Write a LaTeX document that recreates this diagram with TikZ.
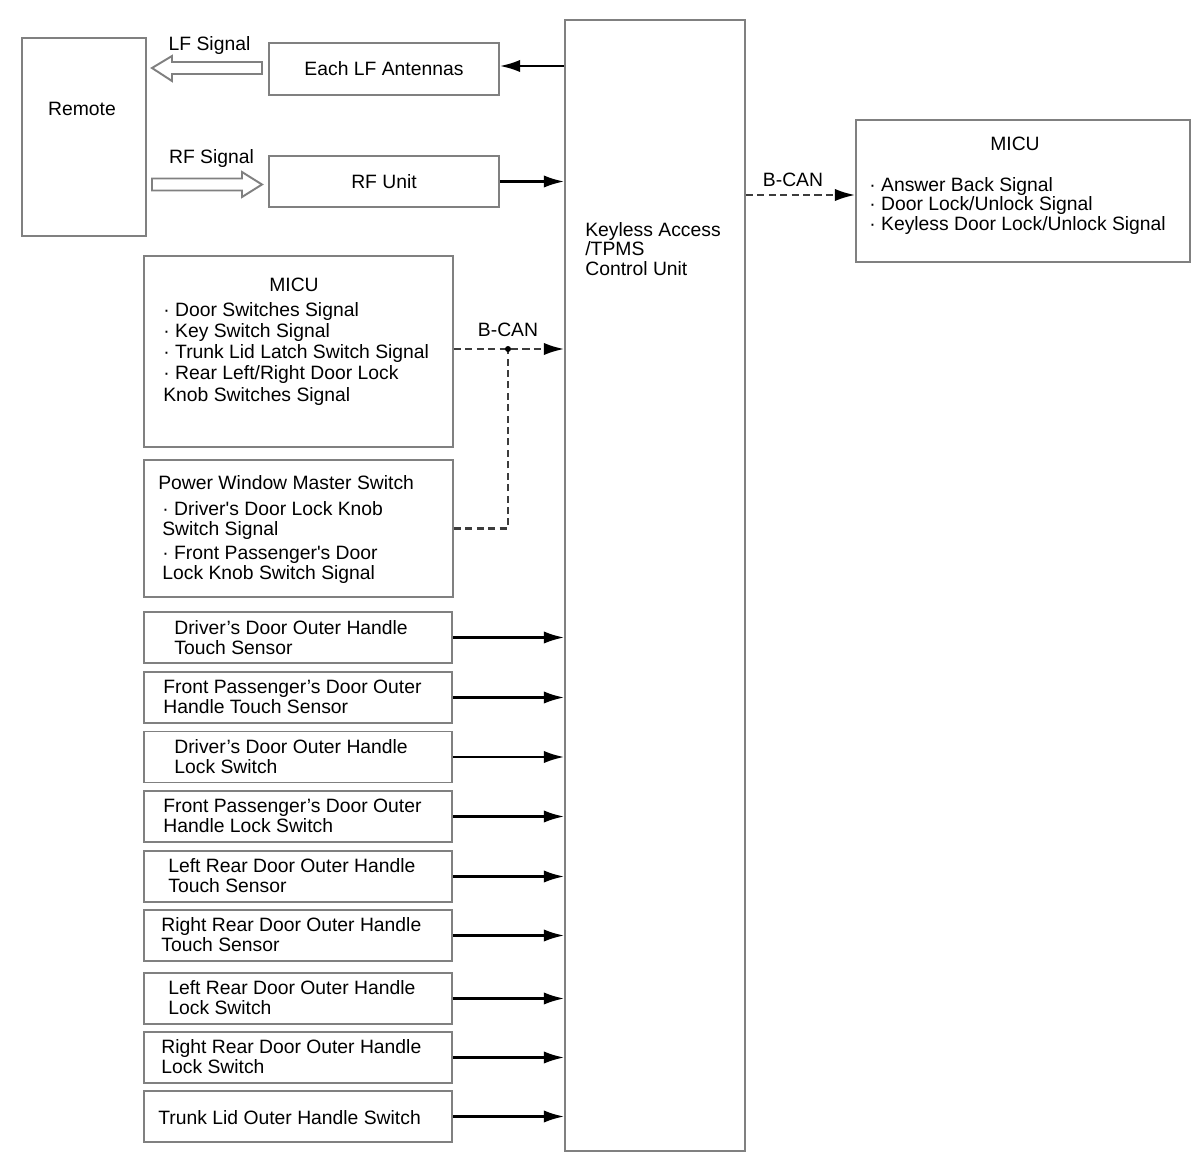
\documentclass[tikz,border=0pt]{standalone}
\usepackage{fontspec}
\newfontfamily\mainf{Liberation Sans}
\usetikzlibrary{arrows.meta,calc}
\definecolor{boxgray}{RGB}{128,128,128}
\definecolor{cangray}{RGB}{60,60,60}
\begin{document}
\begin{tikzpicture}[x=0.02cm,y=-0.02cm,
  box/.style={draw=boxgray, line width=1.1pt, fill=white, inner sep=0pt, font=\mainf\fontsize{11}{11.3}\selectfont},
  sz/.style 2 args={minimum width=#1*0.02cm, minimum height=#2*0.02cm},
  txt/.style={inner sep=0pt, align=left, font=\mainf\fontsize{11}{#1}\selectfont},
  txt/.default={11.3pt},
  conn/.style={line width=1.2pt, draw=black, -{Latex[length=11.5pt,width=7pt]}},
  can/.style={line width=1.2pt, draw=cangray, dash pattern=on 4pt off 2.5pt},
  canarrow/.style={can, -{Latex[length=11.5pt,width=7pt,fill=black,color=black]}},
  hollow/.style={draw=boxgray, line width=1.1pt, fill=white, line join=miter}
]
\fill[white] (0,0) rectangle (1200,1173);
\useasboundingbox (0,0) rectangle (1200,1173);

% Remote and top boxes
\node[box, sz={124}{198}] (remote) at (84,137) {};
\node[txt, anchor=base] (remotet) at (82,115) {Remote};
\node[box, sz={230}{52}] (lf) at (384,69) {Each LF Antennas};
\node[box, sz={230}{51}] (rf) at (384,181.5) {RF Unit};

% control unit
\node[box, sz={180}{1131}] (cu) at (655,585.5) {};
\node[txt=11.05pt, anchor=base west] (cut) at (585,275) {Keyless Access\\/TPMS\\Control Unit};

% right MICU
\node[box, sz={334}{142}] (micuR) at (1023,191) {};
\node[txt, anchor=base] (micuRt) at (1015,150) {MICU};
\node[txt=11.05pt, anchor=base west] (micuRi) at (869,230) {· Answer Back Signal\\· Door Lock/Unlock Signal\\· Keyless Door Lock/Unlock Signal};

% left MICU
\node[box, sz={309}{191}] (micuL) at (298.5,351.5) {};
\node[txt, anchor=base] (micuLt) at (294,291) {MICU};
\node[txt=12.05pt, anchor=base west] (micuLi) at (163,401) {· Door Switches Signal\\· Key Switch Signal\\· Trunk Lid Latch Switch Signal\\· Rear Left/Right Door Lock\\Knob Switches Signal};

% power window master switch
\node[box, sz={309}{137}] (pwms) at (298.5,528.5) {};
\node[txt, anchor=base west] (pwmst) at (158,489) {Power Window Master Switch};
\node[txt, anchor=base west] (pwmsa) at (162,535) {· Driver's Door Lock Knob\\Switch Signal};
\node[txt, anchor=base west] (pwmsb) at (162,579) {· Front Passenger's Door\\Lock Knob Switch Signal};

% sensor / switch rows
\node[box, sz={308}{51}] (r1) at (298,637.5) {};
\node[txt, anchor=base west] (r1t) at (174,654) {Driver’s Door Outer Handle\\Touch Sensor};
\node[box, sz={308}{51}] (r2) at (298,697.5) {};
\node[txt, anchor=base west] (r2t) at (163,713) {Front Passenger’s Door Outer\\Handle Touch Sensor};
\node[box, sz={308}{51}] (r3) at (298,757) {};
\node[txt, anchor=base west] (r3t) at (174,773) {Driver’s Door Outer Handle\\Lock Switch};
\node[box, sz={308}{51}] (r4) at (298,816.5) {};
\node[txt, anchor=base west] (r4t) at (163,832) {Front Passenger’s Door Outer\\Handle Lock Switch};
\node[box, sz={308}{51}] (r5) at (298,876.5) {};
\node[txt, anchor=base west] (r5t) at (168,892) {Left Rear Door Outer Handle\\Touch Sensor};
\node[box, sz={308}{51}] (r6) at (298,935.5) {};
\node[txt, anchor=base west] (r6t) at (161,951) {Right Rear Door Outer Handle\\Touch Sensor};
\node[box, sz={308}{51}] (r7) at (298,998.5) {};
\node[txt, anchor=base west] (r7t) at (168,1014) {Left Rear Door Outer Handle\\Lock Switch};
\node[box, sz={308}{51}] (r8) at (298,1057.5) {};
\node[txt, anchor=base west] (r8t) at (161,1073) {Right Rear Door Outer Handle\\Lock Switch};
\node[box, sz={308}{51}] (r9) at (298,1116.5) {};
\node[txt, anchor=base west] (r9t) at (158,1124) {Trunk Lid Outer Handle Switch};

% hollow signal arrows
\draw[hollow] (262,62) -- (172,62) -- (172,56) -- (152,68) -- (172,81) -- (172,74) -- (262,74) -- cycle;
\draw[hollow] (152,178.5) -- (242,178.5) -- (242,172) -- (262,184.5) -- (242,197) -- (242,190.5) -- (152,190.5) -- cycle;
\node[txt, anchor=base] (lfsig) at (209.5,51) {LF Signal};
\node[txt, anchor=base] (rfsig) at (211.5,163) {RF Signal};

% connectors
\coordinate (lfy) at (530,66);
\draw[conn] (cu.west |- lfy) -- (lf.east |- lfy);
\draw[conn] (rf.east) -- (cu.west |- rf.east);
\foreach \r in {r1,r2,r3,r4,r5,r6,r7,r8,r9}{
  \draw[conn] (\r.east) -- (cu.west |- \r.east);
}

% B-CAN right
\coordinate (bcr) at (800,195);
\draw[canarrow] (cu.east |- bcr) -- (micuR.west |- bcr);
\node[txt, anchor=base] (bcrt) at (793,186) {B-CAN};

% B-CAN left
\coordinate (bcl) at (508,349);
\draw[canarrow] (micuL.east |- bcl) -- (cu.west |- bcl);
\draw[can] (pwms.east) -| (bcl);
\fill[black] (bcl) circle[radius=1.7pt];
\node[txt, anchor=base] (bclt) at (508,336) {B-CAN};
\end{tikzpicture}
\end{document}
